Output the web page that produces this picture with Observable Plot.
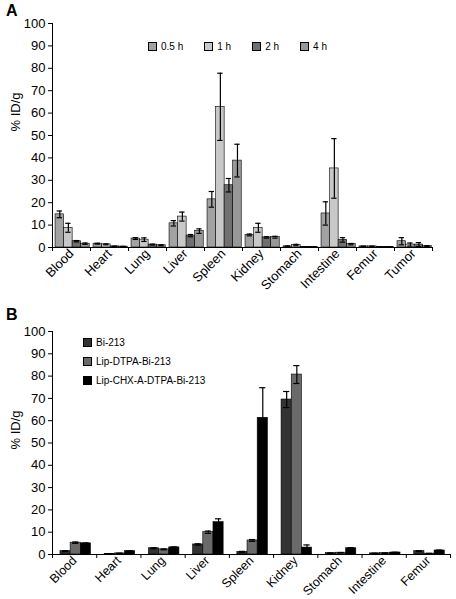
<!DOCTYPE html>
<html>
<head>
<meta charset="utf-8">
<script src="https://cdn.jsdelivr.net/npm/d3@7"></script>
<script src="https://cdn.jsdelivr.net/npm/@observablehq/plot@0.6"></script>
<style>
  html, body { margin: 0; padding: 0; background: #fff; }
  #wrap { position: relative; width: 456px; height: 599px; font-family: "Liberation Sans", Arial, sans-serif; color: #000; }
  .panel { position: absolute; left: 0; }
  .panel svg { overflow: visible; }
  .plab { position: absolute; left: 6px; font-weight: bold; font-size: 16px; }
  .ylab { position: absolute; font-size: 13px; transform: translate(-50%, -50%) rotate(-90deg); white-space: nowrap; }
  .leg { position: absolute; font-size: 10px; }
  .item { display: flex; align-items: center; white-space: nowrap; }
  .sw { width: 7px; height: 7px; border: 0.6px solid #000; margin-right: 4px; }
</style>
</head>
<body>
<div id="wrap"></div>
<script>
// ---- Panel A data ----
const organsA = ["Blood","Heart","Lung","Liver","Spleen","Kidney","Stomach","Intestine","Femur","Tumor"];
const seriesA = ["0.5 h","1 h","2 h","4 h"];
const colorsA = ["#a2a2a2","#c8c8c8","#707070","#989898"];
const valA_05 = [14.8, 1.7, 4.0, 10.8, 21.5, 5.6, 0.5, 15.2, 0.5, 2.8];
const valA_1  = [8.8, 1.4, 3.5, 13.8, 62.8, 8.8, 1.1, 35.3, 0.5, 1.3];
const valA_2  = [2.8, 0.5, 1.3, 5.3, 27.8, 4.5, 0.2, 3.4, 0.2, 1.3];
const valA_4  = [1.7, 0.4, 1.0, 7.3, 38.8, 4.6, 0.2, 1.5, 0.2, 0.6];
const errA_05 = [1.5, 0.2, 0.4, 1.2, 3.5, 0.4, 0.2, 5.2, 0.1, 1.6];
const errA_1  = [2.0, 0.2, 0.8, 2.0, 15.0, 2.0, 0.3, 13.3, 0.1, 0.7];
const errA_2  = [0.3, 0.1, 0.2, 0.5, 3.0, 0.3, 0.1, 1.0, 0.1, 0.9];
const errA_4  = [0.3, 0.1, 0.2, 1.0, 7.3, 0.4, 0.1, 0.3, 0.1, 0.2];

// ---- Panel B data ----
const organsB = ["Blood","Heart","Lung","Liver","Spleen","Kidney","Stomach","Intestine","Femur"];
const seriesB = ["Bi-213","Lip-DTPA-Bi-213","Lip-CHX-A-DTPA-Bi-213"];
const colorsB = ["#333333","#6a6a6a","#000000"];
const valB_bi   = [1.5, 0.3, 2.8, 4.5, 1.2, 69.5, 0.6, 0.5, 1.5];
const valB_dtpa = [5.3, 0.5, 2.3, 10.0, 6.3, 80.7, 0.8, 0.6, 0.4];
const valB_chx  = [5.0, 1.5, 3.2, 14.5, 61.3, 3.1, 2.8, 0.9, 1.8];
const errB_bi   = [0.2, 0.1, 0.2, 0.3, 0.2, 3.6, 0.1, 0.1, 0.2];
const errB_dtpa = [0.3, 0.1, 0.2, 0.5, 0.4, 4.0, 0.1, 0.1, 0.1];
const errB_chx  = [0.2, 0.2, 0.2, 1.5, 13.5, 1.2, 0.3, 0.1, 0.2];

const yTicks = d3.range(0, 101, 10);
const FONT = "'Liberation Sans', Arial, sans-serif";

function buildRows(organs, series, vals, errs, pad, bw) {
  const rows = [];
  organs.forEach((o, i) => {
    series.forEach((s, j) => {
      const x1 = i + pad + j * bw;
      rows.push({organ: o, series: s, j, x1, x2: x1 + bw, xc: x1 + bw / 2, value: vals[j][i], err: errs[j][i]});
    });
  });
  return rows;
}

function makePanel(opts) {
  const {organs, series, colors, rows, height, mt, mb, ml, mr, cap, lfs} = opts;
  const n = organs.length;
  const eb = rows.filter(d => d.err > 0);
  return Plot.plot({
    width: 456, height, marginTop: mt, marginBottom: mb, marginLeft: ml, marginRight: mr,
    style: {fontFamily: FONT, fontSize: "13px", background: "transparent", color: "#000", overflow: "visible"},
    x: {domain: [0, n], axis: null},
    y: {domain: [0, 100], axis: null},
    color: {domain: series, range: colors},
    marks: [
      Plot.rectY(rows, {x1: "x1", x2: "x2", y: "value", fill: "series", stroke: "#000", strokeWidth: 0.6}),
      Plot.ruleX(eb, {x: "xc", y1: d => Math.max(0, d.value - d.err), y2: d => d.value + d.err, stroke: "#000", strokeWidth: 1.2}),
      Plot.ruleY(eb, {x1: d => d.xc - cap, x2: d => d.xc + cap, y: d => d.value + d.err, stroke: "#000", strokeWidth: 1.2}),
      Plot.ruleY(eb, {x1: d => d.xc - cap, x2: d => d.xc + cap, y: d => Math.max(0, d.value - d.err), stroke: "#000", strokeWidth: 1.2}),
      Plot.ruleX([0], {stroke: "#000", strokeWidth: 1}),
      Plot.ruleY([0], {stroke: "#000", strokeWidth: 1}),
      Plot.axisY({ticks: yTicks, tickSize: 4, tickPadding: 3, label: null, fontSize: 13}),
      Plot.axisX({ticks: d3.range(0, n + 1), tickFormat: () => "", tickSize: 4, label: null}),
      Plot.axisX({ticks: d3.range(n).map(i => i + 0.5), tickFormat: d => organs[Math.floor(d)], tickSize: 0, tickPadding: 4, tickRotate: -45, label: null, fontSize: lfs})
    ]
  });
}

const wrap = document.getElementById("wrap");

// Panel A
const rowsA = buildRows(organsA, seriesA, [valA_05, valA_1, valA_2, valA_4], [errA_05, errA_1, errA_2, errA_4], 0.08, 0.225);
const svgA = makePanel({organs: organsA, series: seriesA, colors: colorsA, rows: rowsA, height: 300, mt: 23, mb: 53, ml: 52, mr: 24, cap: 0.07, lfs: 13});
const pa = document.createElement("div"); pa.className = "panel"; pa.style.top = "0px"; pa.appendChild(svgA); wrap.appendChild(pa);

// Panel B
const rowsB = buildRows(organsB, seriesB, [valB_bi, valB_dtpa, valB_chx], [errB_bi, errB_dtpa, errB_chx], 0.18, 0.23);
const svgB = makePanel({organs: organsB, series: seriesB, colors: colorsB, rows: rowsB, height: 299, mt: 31, mb: 45, ml: 52, mr: 6, cap: 0.07, lfs: 12.5});
const pb = document.createElement("div"); pb.className = "panel"; pb.style.top = "300px"; pb.appendChild(svgB); wrap.appendChild(pb);

// Panel labels
function addDiv(cls, text, css) {
  const d = document.createElement("div"); d.className = cls; d.textContent = text;
  Object.assign(d.style, css); wrap.appendChild(d); return d;
}
addDiv("plab", "A", {top: "2px"});
addDiv("plab", "B", {top: "306px"});
addDiv("ylab", "% ID/g", {left: "15px", top: "112px"});
addDiv("ylab", "% ID/g", {left: "15px", top: "430px"});

// Legend A (horizontal)
const legA = document.createElement("div"); legA.className = "leg";
Object.assign(legA.style, {left: "148px", top: "41px", display: "flex"});
seriesA.forEach((s, j) => {
  const it = document.createElement("div"); it.className = "item";
  it.style.marginRight = j < seriesA.length - 1 ? "21px" : "0";
  const sw = document.createElement("div"); sw.className = "sw"; sw.style.background = colorsA[j];
  const t = document.createElement("span"); t.textContent = s;
  it.appendChild(sw); it.appendChild(t); legA.appendChild(it);
});
wrap.appendChild(legA);

// Legend B (vertical)
const legB = document.createElement("div"); legB.className = "leg";
Object.assign(legB.style, {left: "83px", top: "333px"});
seriesB.forEach((s, j) => {
  const it = document.createElement("div"); it.className = "item";
  it.style.height = "19px";
  const sw = document.createElement("div"); sw.className = "sw"; sw.style.background = colorsB[j];
  const t = document.createElement("span"); t.textContent = s;
  it.appendChild(sw); it.appendChild(t); legB.appendChild(it);
});
wrap.appendChild(legB);
</script>
</body>
</html>
